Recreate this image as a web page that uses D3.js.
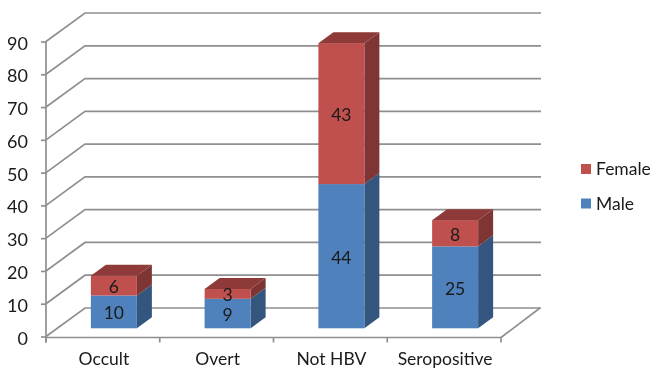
<!DOCTYPE html>
<html><head><meta charset="utf-8">
<script src="https://cdnjs.cloudflare.com/ajax/libs/d3/7.8.5/d3.min.js"></script>
<style>html,body{margin:0;padding:0;background:#fff;overflow:hidden}
svg{display:block;filter:blur(0.5px)}
text{font-family:Lato,"Open Sans",sans-serif;fill:#1a1a1a}</style></head>
<body><svg id="c" width="651" height="369"></svg>
<script>
const categories = ["Occult","Overt","Not HBV","Seropositive"];
const male = [10,9,44,25];
const female = [6,3,43,8];
const yTicks = [0,10,20,30,40,50,60,70,80,90];
const seriesNames = ["Female","Male"];
const seriesColors = {Male:{front:"#4f81bd",side:"#34557e",top:"#3f6797"},Female:{front:"#c0504d",side:"#7f3533",top:"#8d3a38"}};

const svg = d3.select("#c");
const x = d3.scaleBand().domain(categories).range([46,501]);
const y = d3.scaleLinear().domain([0,90]).range([336.5,41.5]);
const wall = {dx:39,dy:-28.5};
const bar = {w:46,shift:11,dx:15,dy:-11,base:-8.2};
const gridC = "#8f8f8f";
const grid = svg.append("g").attr("fill","none").attr("stroke",gridC).attr("stroke-width",1.7);

yTicks.forEach(t=>{
  const p = d3.path();
  p.moveTo(46,y(t)); p.lineTo(46+wall.dx,y(t)+wall.dy); p.lineTo(541,y(t)+wall.dy);
  grid.append("path").attr("d",p.toString());
});
grid.append("path").attr("d",`M501,${y(0)+1}L${501+wall.dx},${y(0)+wall.dy}`);

const gy = svg.append("g").attr("transform","translate(46,0)")
  .call(d3.axisLeft(y).tickValues(yTicks).tickSize(5).tickPadding(13));
const gx = svg.append("g").attr("transform",`translate(0,${y(0)+1})`)
  .call(d3.axisBottom(x).tickSize(0).tickPadding(15));
gy.select(".domain").attr("d",`M0,${y(90)}V${y(0)+6}`);
[gy,gx].forEach(g=>{
  g.selectAll("path,line").attr("stroke",gridC).attr("stroke-width",1.7);
  g.selectAll("text").attr("font-family",null).attr("fill","#1a1a1a");
});
gy.selectAll("text").attr("font-size",18).attr("dy","0.42em");
gx.selectAll("text").attr("font-size",17.5).attr("dx",1);
gx.select(".domain").attr("d","M46,0H501");
svg.append("g").attr("stroke",gridC).attr("stroke-width",1.7).selectAll("line")
  .data(categories.concat("end")).join("line")
  .attr("x1",d=>d==="end"?501:x(d)).attr("x2",d=>d==="end"?501:x(d))
  .attr("y1",y(0)+1).attr("y2",y(0)+6);

const bars = svg.append("g");
categories.forEach((c,i)=>{
  const xl = x(c)+x.bandwidth()/2-bar.w/2+bar.shift;
  const xr = xl+bar.w;
  const Y = v=>y(v)+bar.base;
  const segs = [{n:"Male",a:0,b:male[i]},{n:"Female",a:male[i],b:male[i]+female[i]}];
  segs.forEach(s=>{
    const col = seriesColors[s.n];
    bars.append("polygon").attr("fill",col.side)
      .attr("points",[[xr,Y(s.a)],[xr+bar.dx,Y(s.a)+bar.dy],[xr+bar.dx,Y(s.b)+bar.dy],[xr,Y(s.b)]].join(" "));
    bars.append("rect").attr("fill",col.front)
      .attr("x",xl).attr("y",Y(s.b)).attr("width",bar.w).attr("height",Y(s.a)-Y(s.b));
  });
  const tot = male[i]+female[i];
  bars.append("polygon").attr("fill",seriesColors.Female.top)
    .attr("points",[[xl,Y(tot)],[xr,Y(tot)],[xr+bar.dx,Y(tot)+bar.dy],[xl+bar.dx,Y(tot)+bar.dy]].join(" "));
  segs.forEach(s=>{
    bars.append("text").attr("x",(xl+xr)/2).attr("y",(Y(s.a)+Y(s.b))/2)
      .attr("dy","0.42em").attr("text-anchor","middle").attr("font-size",17.5)
      .text(s.b-s.a);
  });
});

const ly = d3.scalePoint().domain(seriesNames).range([169,203.5]);
const lg = svg.append("g").selectAll("g").data(seriesNames).join("g")
  .attr("transform",d=>`translate(581,${ly(d)})`);
lg.append("rect").attr("x",0).attr("y",-5).attr("width",10).attr("height",10)
  .attr("fill",d=>seriesColors[d].front);
lg.append("text").attr("x",15).attr("dy","0.36em").attr("font-size",17.5).text(d=>d);
</script></body></html>
